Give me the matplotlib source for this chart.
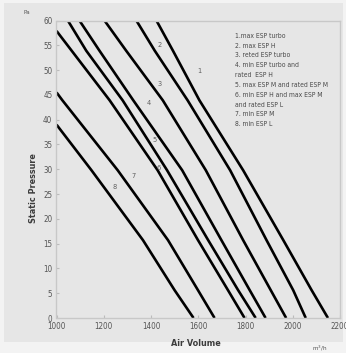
import matplotlib.pyplot as plt
from matplotlib.patches import Rectangle

plt.rcParams['font.family'] = ['DejaVu Sans']
plt.rcParams['font.stretch'] = 'condensed'

# (pressure Pa, air volume m3/h), curves 1..8
p_top = [60, 53.9, 43.9, 29.8, 15.7, 5.6, 0]
curve1 = [1423, 1493, 1605, 1790, 1960, 2080, 2149]
curve2 = [1338, 1416, 1555, 1735, 1889, 2002, 2055]
curve3 = [1203, 1295, 1450, 1632, 1790, 1907, 1972]
curve4 = [1097, 1182, 1325, 1532, 1698, 1818, 1885]
curve5 = [1048, 1126, 1280, 1468, 1642, 1769, 1843]
p6 = [57.9, 43.9, 29.8, 15.7, 5.6, 0]
curve6 = [1000, 1225, 1428, 1599, 1726, 1796]
p7 = [45.5, 43.9, 29.8, 15.7, 5.6, 0]
curve7 = [1000, 1025, 1259, 1472, 1599, 1669]
p8 = [39, 29.8, 15.7, 5.6, 0]
curve8 = [1000, 1148, 1366, 1500, 1580]

curve_labels = ['1', '2', '3', '4', '5', '6', '7', '8']
label_x = [1604, 1438, 1437, 1391, 1416, 1434, 1325, 1248]
label_y = [49.8, 55.1, 47.1, 43.3, 35.9, 30.3, 28.6, 26.4]

legend_lines = ['1.max ESP turbo', '2. max ESP H', '3. reted ESP turbo',
                '4. min ESP turbo and', 'rated  ESP H',
                '5. max ESP M and rated ESP M', '6. min ESP H and max ESP M',
                'and rated ESP L', '7. min ESP M', '8. min ESP L']

W, H = 346, 353
fig = plt.figure(figsize=(W / 100, H / 100), dpi=100, facecolor='#f3f3f3')
fig.patches.append(Rectangle((4 / W, 1 - 342 / H), 339 / W, 339 / H,
                             transform=fig.transFigure, facecolor='#e6e6e6',
                             edgecolor='none', zorder=-10))

ax = fig.add_axes([56.5 / W, 1 - 318 / H, 283.5 / W, 297.5 / H])
ax.set_facecolor('#e6e6e6')

series = [(curve1, p_top), (curve2, p_top), (curve3, p_top), (curve4, p_top),
          (curve5, p_top), (curve6, p6), (curve7, p7), (curve8, p8)]
for vol, pr in series:
    ax.plot(vol, pr, color='black', lw=1.9, solid_capstyle='butt',
            solid_joinstyle='round')

for s, x, y in zip(curve_labels, label_x, label_y):
    ax.text(x, y, s, fontsize=5.3, color='#606060', ha='center', va='center',
            zorder=5)

ax.set_xlim(1000, 2200)
ax.set_ylim(0, 60)
ax.set_xticks(range(1000, 2201, 200))
ax.set_yticks(range(0, 61, 5))
ax.tick_params(direction='in', length=2, width=0.8, color='#bbbbbb',
               labelsize=5.8, labelcolor='#555555', pad=3)
for sp in ax.spines.values():
    sp.set_color('#c8c8c8')
    sp.set_linewidth(1)

fig.text(27 / W, 1 - 12 / H, 'Pa', fontsize=4.5, color='#555555', ha='center', va='center')
fig.text(33 / W, 1 - 188 / H, 'Static Pressure', fontsize=6.5, color='#3c3c3c',
         rotation=90, ha='center', va='center', fontweight='semibold')
fig.text(196 / W, 1 - 344 / H, 'Air Volume', fontsize=6.5, color='#3c3c3c',
         ha='center', va='center', fontweight='semibold')
fig.text(320 / W, 1 - 348 / H, 'm$^3$/h', fontsize=4.5, color='#555555',
         ha='center', va='center')

for i, s in enumerate(legend_lines):
    fig.text(235 / W, 1 - (35.7 + 9.85 * i) / H, s, fontsize=4.9,
             color='#4a4a4a', ha='left', va='center')

fig.savefig('out.png', dpi=100, facecolor=fig.get_facecolor())
